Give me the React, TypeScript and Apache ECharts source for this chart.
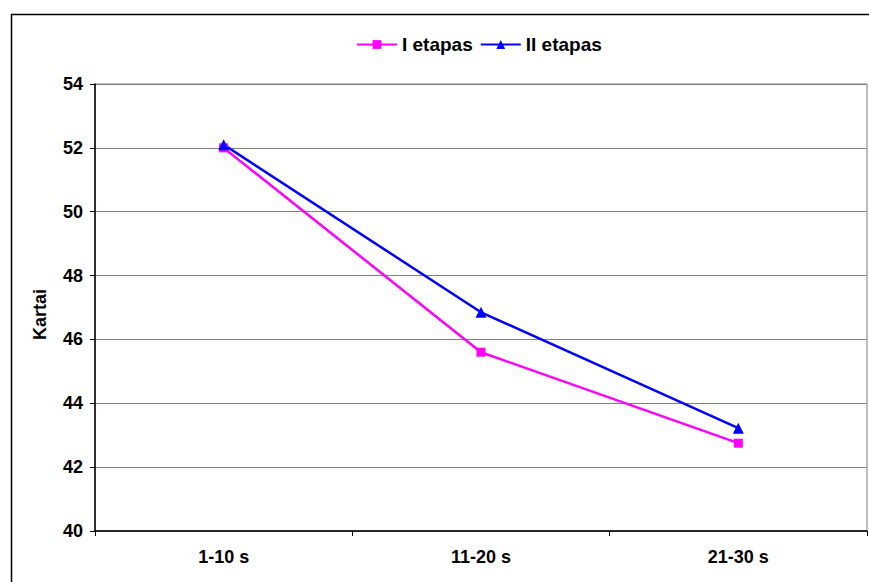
import React, { useEffect, useRef } from "react";
import * as echarts from "echarts";

const categories = ["1-10 s", "11-20 s", "21-30 s"];
const seriesNames = ["I etapas", "II etapas"];
const stage1 = [52.0, 45.6, 42.75];
const stage2 = [52.1, 46.85, 43.22];
const yTicks = { min: 40, max: 54, interval: 2 };

const FONT = "'Liberation Sans', Arial, sans-serif";

export default function App() {
  const ref = useRef<HTMLDivElement>(null);
  useEffect(() => {
    if (!ref.current) return;
    const chart = echarts.init(ref.current, null, { renderer: "svg" });
    chart.setOption({
      animation: false,
      backgroundColor: "#ffffff",
      graphic: [
        {
          type: "rect",
          left: 9,
          top: 12,
          shape: { x: 0, y: 0, width: 900, height: 620 },
          style: { fill: "none", stroke: "#000000", lineWidth: 1.5 },
          silent: true,
          z: -1,
        },
      ],
      legend: {
        left: 356,
        top: 35,
        padding: 0,
        itemWidth: 40,
        itemHeight: 11,
        itemGap: 7,
        textStyle: { fontFamily: FONT, fontWeight: "bold", fontSize: 19, color: "#000" },
        data: seriesNames,
      },
      grid: {
        left: 95,
        top: 84,
        right: 2,
        bottom: 51,
        show: true,
        borderColor: "#808080",
        borderWidth: 1,
      },
      xAxis: {
        type: "category",
        data: categories,
        boundaryGap: true,
        axisLine: { show: true, lineStyle: { color: "#000", width: 1.5 } },
        axisTick: { show: true, inside: false, length: 5, lineStyle: { color: "#000" } },
        axisLabel: {
          fontFamily: FONT,
          fontWeight: "bold",
          fontSize: 18,
          color: "#000",
          margin: 17,
        },
        splitLine: { show: false },
      },
      yAxis: {
        type: "value",
        min: yTicks.min,
        max: yTicks.max,
        interval: yTicks.interval,
        name: "Kartai",
        nameLocation: "middle",
        nameRotate: 90,
        nameGap: 46,
        nameTextStyle: {
          fontFamily: FONT,
          fontWeight: "bold",
          fontSize: 18,
          color: "#000",
          padding: [0, 14, 0, 0],
        },
        axisLine: { show: true, lineStyle: { color: "#000", width: 1.5 } },
        axisTick: { show: true, inside: false, length: 5, lineStyle: { color: "#000" } },
        axisLabel: {
          fontFamily: FONT,
          fontWeight: "bold",
          fontSize: 18,
          color: "#000",
          margin: 12,
        },
        splitLine: { show: true, lineStyle: { color: "#808080", width: 1 } },
      },
      series: [
        {
          name: seriesNames[0],
          type: "line",
          data: stage1,
          symbol: "rect",
          symbolSize: 9,
          itemStyle: { color: "#FF00FF" },
          lineStyle: { color: "#FF00FF", width: 2.5 },
        },
        {
          name: seriesNames[1],
          type: "line",
          data: stage2,
          symbol: "triangle",
          symbolSize: 11,
          itemStyle: { color: "#0000FF" },
          lineStyle: { color: "#0000FF", width: 2.5 },
        },
      ],
    });
    return () => chart.dispose();
  }, []);
  return (
    <div
      ref={ref}
      style={{ position: "fixed", left: 0, top: 0, width: 869, height: 582 }}
    />
  );
}
